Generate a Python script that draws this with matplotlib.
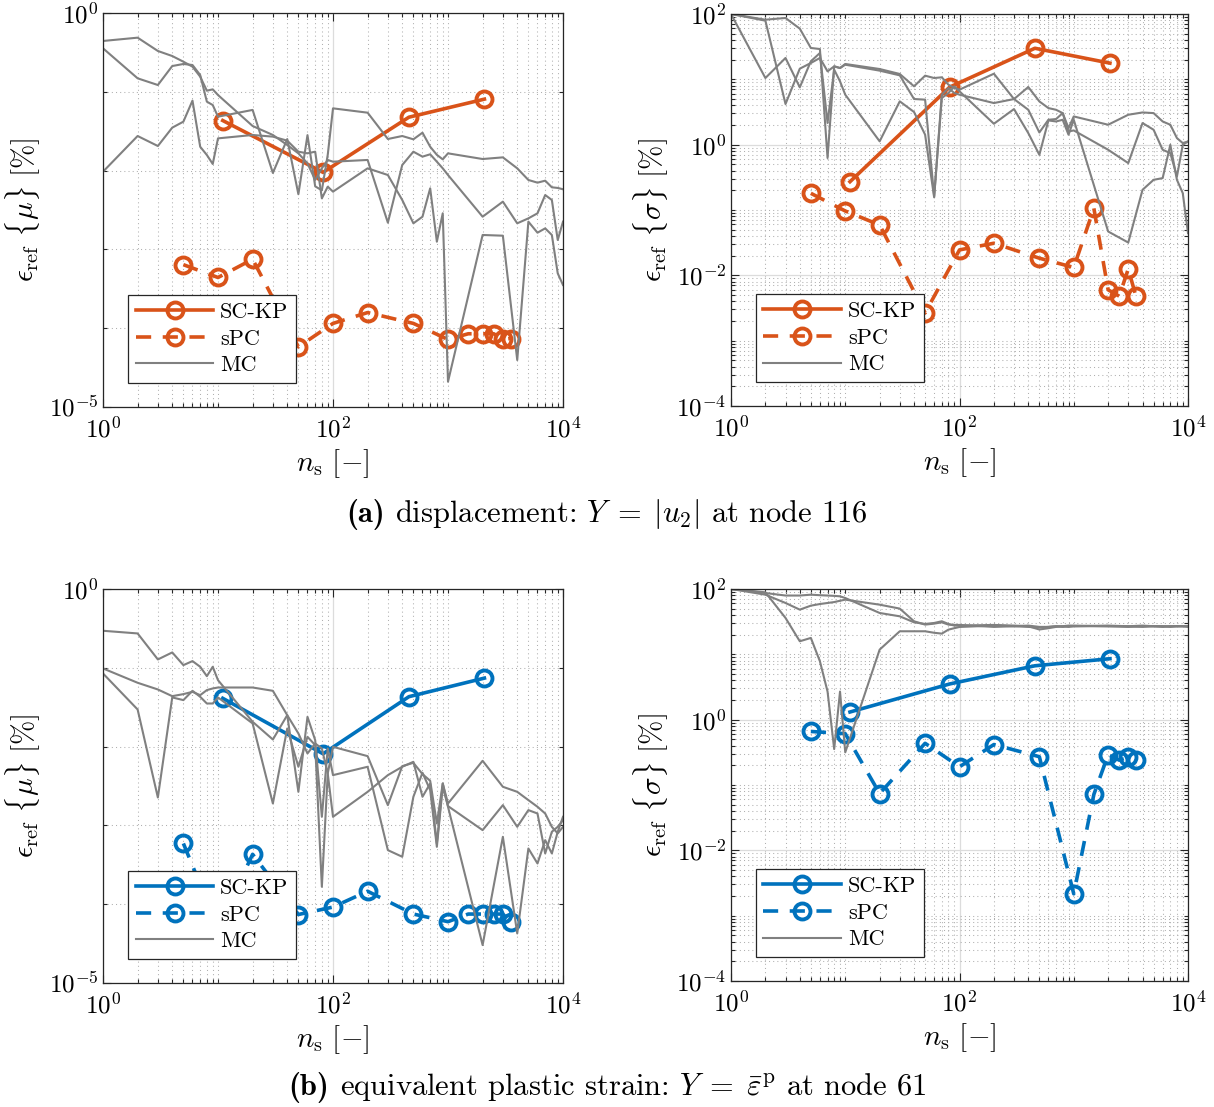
import numpy as np
import matplotlib
matplotlib.use('Agg')
import matplotlib.pyplot as plt
from matplotlib.ticker import FixedLocator, LogLocator, NullFormatter
from matplotlib.offsetbox import TextArea, HPacker, AnchoredOffsetbox

plt.rcParams['font.family'] = ['cmr10', 'DejaVu Serif']
plt.rcParams['mathtext.fontset'] = 'cm'
plt.rcParams['axes.formatter.use_mathtext'] = True
plt.rcParams['axes.unicode_minus'] = False

# ---- data ----
ns_mc = [1, 2, 3, 4, 5, 6, 7, 8, 9, 10, 20, 30, 40, 50, 60, 70, 80, 90, 100,
         200, 300, 400, 500, 600, 700, 800, 900, 1000,
         2000, 3000, 4000, 5000, 6000, 7000, 8000, 9000, 10000]
ns_sckp = [11, 82, 457, 2073]
ns_spc = [5, 10, 20, 50, 100, 200, 500, 1000, 1500, 2000, 2500, 3000, 3500]

# (a) displacement, mean
sckp_disp_mu = [0.0432, 0.0095, 0.0476, 0.0807]
spc_disp_mu = [6.4e-4, 4.4e-4, 7.5e-4, 5.8e-5, 1.15e-4, 1.58e-4, 1.15e-4,
               7.2e-5, 8.5e-5, 8.5e-5, 8.5e-5, 7.2e-5, 7.4e-5]
# MC runs, stored as log10 of the error
mc_disp_mu_1 = [-0.355, -0.313, -0.482, -0.546, -0.618, -0.681, -0.808, -0.986, -0.969, -1.041,
                -1.434, -1.548, -1.675, -1.781, -1.908, -2.119, -1.971, -1.865, -1.887,
                -1.865, -2.661, -1.929, -1.760, -1.823, -1.793, -1.887, -1.971, -2.056,
                -2.585, -2.394, -2.669, -2.606, -2.542, -2.310, -2.373, -2.881, -2.648]
mc_disp_mu_2 = [-0.448, -0.829, -0.914, -0.673, -0.647, -0.660, -0.787, -1.125, -1.168, -1.316,
                -1.230, -2.030, -1.600, -2.300, -1.550, -2.200, -2.250, -1.800, -1.210,
                -1.265, -1.599, -1.561, -1.603, -1.519, -1.697, -1.800, -1.857, -1.781,
                -1.853, -1.832, -1.971, -2.119, -2.153, -2.128, -2.212, -2.220, -2.237]
mc_disp_mu_3 = [-2.014, -1.561, -1.688, -1.455, -1.379, -1.112, -1.697, -1.802, -1.916, -1.591,
                -1.548, -1.569, -1.620, -1.760, -1.781, -1.760, -2.352, -2.204, -2.267,
                -1.971, -2.056, -2.373, -2.669, -2.585, -2.225, -2.902, -2.542, -4.679,
                -2.817, -2.826, -4.404, -2.648, -2.788, -2.733, -2.817, -3.304, -3.452]

# (a) displacement, std
sckp_disp_sig = [0.271, 7.6, 29.9, 17.7]
spc_disp_sig = [0.18, 0.0966, 0.059, 0.00266, 0.0245, 0.031, 0.0183,
                0.0132, 0.106, 0.006, 0.0048, 0.0125, 0.0048]
mc_disp_sig_1 = [2.0, 1.913, 1.939, 1.776, 1.480, 1.464, -0.204, 1.199, 1.173, 1.235,
                 1.158, 1.082, 0.893, 1.056, 1.020, 1.031, 0.918, 0.867, 0.842,
                 1.086, 0.698, 0.882, 0.662, 0.560, 0.534, 0.483, 0.254, 0.432,
                 0.305, 0.458, 0.493, 0.483, 0.355, 0.305, 0.101, 0.024, 0.049]
mc_disp_sig_2 = [2.0, 1.020, 1.327, 0.878, 1.276, 1.403, 0.332, 1.148, 0.969, 0.765,
                 0.051, 0.663, 0.500, 0.153, -0.806, 0.765, 0.867, 0.791, 0.765,
                 0.637, 0.698, 0.534, 0.187, 0.381, 0.392, 0.483, 0.202, 0.218,
                 -0.078, -0.282, 0.331, 0.228, -0.078, -0.129, -0.487, -0.002, 0.049]
mc_disp_sig_3 = [2.0, 1.898, 0.622, 1.163, 1.250, 1.327, 1.122, 1.199, 1.173, 1.224,
                 1.133, 1.061, 0.699, 0.689, -0.791, 0.714, 0.791, 0.893, 0.816,
                 0.320, 0.545, 0.177, -0.155, 0.371, 0.355, 0.381, 0.152, 0.381,
                 -1.329, -1.498, -0.691, -0.538, -0.512, -0.002, -0.538, -0.742, -1.354]

# (b) equivalent plastic strain, mean
sckp_eps_mu = [0.041, 0.0081, 0.043, 0.074]
spc_eps_mu = [5.9e-4, 5.0e-5, 4.3e-4, 7.4e-5, 9.2e-5, 1.46e-4, 7.5e-5,
              6.0e-5, 7.5e-5, 7.5e-5, 7.5e-5, 7.5e-5, 5.9e-5]
mc_eps_mu_1 = [-0.530, -0.564, -0.894, -0.805, -0.966, -0.915, -0.987, -1.106, -0.987, -1.157,
               -1.685, -1.910, -1.601, -1.833, -2.087, -1.960, -2.024, -2.341, -2.003,
               -2.121, -2.743, -2.248, -2.206, -2.349, -2.434, -2.975, -2.468, -2.722,
               -2.180, -2.510, -2.574, -2.679, -2.764, -2.849, -3.018, -3.102, -3.018]
mc_eps_mu_2 = [-1.008, -1.190, -1.275, -1.360, -1.334, -1.305, -1.347, -1.283, -1.262, -1.250,
               -1.250, -1.292, -1.601, -2.574, -1.622, -1.918, -2.891, -2.024, -2.362,
               -2.256, -3.314, -3.398, -2.637, -2.332, -2.552, -3.272, -2.510, -2.755,
               -3.060, -2.743, -3.018, -2.806, -2.849, -3.356, -3.081, -3.018, -2.933]
mc_eps_mu_3 = [-1.072, -1.529, -2.646, -1.376, -1.410, -1.292, -1.368, -1.453, -1.453, -1.376,
               -1.706, -2.722, -1.770, -2.256, -1.876, -1.981, -3.779, -2.341, -2.891,
               -2.574, -2.362, -2.256, -2.193, -2.637, -2.468, -3.229, -2.468, -2.764,
               -4.519, -3.145, -4.371, -3.293, -3.483, -3.187, -3.356, -3.081, -2.891]

# (b) equivalent plastic strain, std
sckp_eps_sig = [1.31, 3.52, 6.68, 8.57]
spc_eps_sig = [0.66, 0.61, 0.074, 0.435, 0.19, 0.416, 0.271,
               0.00216, 0.0718, 0.291, 0.24, 0.265, 0.24]
mc_eps_sig_1 = [2.0, 1.949, 1.557, 1.200, 1.251, 0.894, 0.430, -0.450, 0.430, -0.500,
                1.072, 1.353, 1.353, 1.353, 1.330, 1.317, 1.378, 1.400, 1.419,
                1.44, 1.43, 1.42, 1.41, 1.42, 1.43, 1.43, 1.42, 1.43,
                1.43, 1.42, 1.43, 1.43, 1.42, 1.43, 1.43, 1.43, 1.43]
mc_eps_sig_2 = [2.0, 1.939, 1.900, 1.900, 1.913, 1.905, 1.900, 1.895, 1.888, 1.862,
                1.633, 1.582, 1.490, 1.465, 1.480, 1.506, 1.465, 1.440, 1.440,
                1.45, 1.44, 1.43, 1.38, 1.40, 1.42, 1.43, 1.44, 1.44,
                1.43, 1.43, 1.44, 1.43, 1.43, 1.43, 1.43, 1.43, 1.43]
mc_eps_sig_3 = [2.0, 1.913, 1.786, 1.684, 1.745, 1.770, 1.786, 1.800, 1.820, 1.837,
                1.760, 1.700, 1.506, 1.455, 1.470, 1.490, 1.455, 1.450, 1.450,
                1.42, 1.43, 1.44, 1.42, 1.42, 1.43, 1.42, 1.43, 1.43,
                1.44, 1.43, 1.42, 1.43, 1.43, 1.42, 1.43, 1.43, 1.42]

ORANGE = '#D95319'
BLUE = '#0072BD'
GREY = '#808080'
AXC = '#262626'

W, H = 1214, 1107
fig = plt.figure(figsize=(W / 100, H / 100), dpi=100)


def box(l, t, r, b):
    return [l / W, 1 - b / H, (r - l) / W, (b - t) / H]


def panel(ax, sckp, spc, mcs, color, ylim, ymajor, yminor, ylabel):
    ax.plot(ns_sckp, sckp, '-o', color=color, lw=2.6, ms=11.5, mew=2.8,
            mfc='none', label='SC-KP')
    ax.plot(ns_spc, spc, '--o', color=color, lw=2.6, ms=11.5, mew=2.8,
            mfc='none', dashes=(4.2, 3.2), label='sPC')
    for i, m in enumerate(mcs):
        ax.plot(ns_mc, 10.0 ** np.array(m), color=GREY, lw=1.5,
                label='MC' if i == 0 else None)

    ax.set_xscale('log')
    ax.set_yscale('log')
    ax.set_xlim(1, 1e4)
    ax.set_ylim(*ylim)

    ax.xaxis.set_major_locator(FixedLocator([1, 1e2, 1e4]))
    ax.xaxis.set_minor_locator(LogLocator(base=10, subs=np.arange(1, 10), numticks=50))
    ax.xaxis.set_minor_formatter(NullFormatter())
    ax.yaxis.set_major_locator(FixedLocator(ymajor))
    ax.yaxis.set_minor_locator(yminor)
    ax.yaxis.set_minor_formatter(NullFormatter())

    ax.set_axisbelow(True)
    ax.grid(True, which='major', color='#dcdcdc', lw=0.9, ls='-')
    ax.grid(True, which='minor', color='#b0b0b0', lw=0.75, ls=(0, (1, 3)))

    ax.tick_params(which='both', direction='in', top=True, right=True,
                   color=AXC, labelsize=18, width=0.8)
    ax.tick_params(which='major', length=6)
    ax.tick_params(which='minor', length=3)
    ax.tick_params(axis='x', which='major', pad=7)
    for s in ax.spines.values():
        s.set_color(AXC)
        s.set_linewidth(0.9)

    ax.set_xlabel(r'$n_{\mathrm{s}}\ [-]$', fontsize=21, labelpad=3)
    ax.set_ylabel(ylabel, fontsize=21)

    leg = ax.legend(loc='lower left', bbox_to_anchor=(0.054, 0.061),
                    borderaxespad=0, fancybox=False, framealpha=1,
                    edgecolor=AXC, fontsize=16, handlelength=3.5,
                    numpoints=1, borderpad=0.35, labelspacing=0.32,
                    handletextpad=0.3)
    leg.get_frame().set_linewidth(0.9)


def caption(tag, text, y):
    a = TextArea(tag, textprops=dict(fontfamily='cmb10', fontsize=22))
    b = TextArea(text, textprops=dict(fontsize=22))
    pack = HPacker(children=[a, b], align='baseline', pad=0, sep=8)
    ab = AnchoredOffsetbox(loc='center', child=pack, frameon=False, pad=0,
                           borderpad=0, bbox_to_anchor=(0.5, 1 - y / H),
                           bbox_transform=fig.transFigure)
    fig.add_artist(ab)


lab_mu = r'$\epsilon_{\mathrm{ref}}\ \{\mu\}\ [\%]$'
lab_sig = r'$\epsilon_{\mathrm{ref}}\ \{\sigma\}\ [\%]$'

ax1 = fig.add_axes(box(103, 13, 563, 407))
panel(ax1, sckp_disp_mu, spc_disp_mu, [mc_disp_mu_1, mc_disp_mu_2, mc_disp_mu_3],
      ORANGE, (1e-5, 1), [1e-5, 1], FixedLocator([1e-4, 1e-3, 1e-2, 1e-1]), lab_mu)

ax2 = fig.add_axes(box(731, 14, 1188, 406))
panel(ax2, sckp_disp_sig, spc_disp_sig, [mc_disp_sig_1, mc_disp_sig_2, mc_disp_sig_3],
      ORANGE, (1e-4, 1e2), [1e-4, 1e-2, 1, 1e2],
      LogLocator(base=10, subs=np.arange(1, 10), numticks=50), lab_sig)

ax3 = fig.add_axes(box(103, 589, 563, 983))
panel(ax3, sckp_eps_mu, spc_eps_mu, [mc_eps_mu_1, mc_eps_mu_2, mc_eps_mu_3],
      BLUE, (1e-5, 1), [1e-5, 1], FixedLocator([1e-4, 1e-3, 1e-2, 1e-1]), lab_mu)

ax4 = fig.add_axes(box(731, 589, 1188, 981))
panel(ax4, sckp_eps_sig, spc_eps_sig, [mc_eps_sig_1, mc_eps_sig_2, mc_eps_sig_3],
      BLUE, (1e-4, 1e2), [1e-4, 1e-2, 1, 1e2],
      LogLocator(base=10, subs=np.arange(1, 10), numticks=50), lab_sig)

caption('(a)', r'displacement: $Y\;=\;|u_2|$ at node 116', 514)
caption('(b)', r'equivalent plastic strain: $Y\;=\;\bar{\varepsilon}^{\mathrm{p}}$ at node 61', 1087)

fig.savefig('out.png', dpi=100)
